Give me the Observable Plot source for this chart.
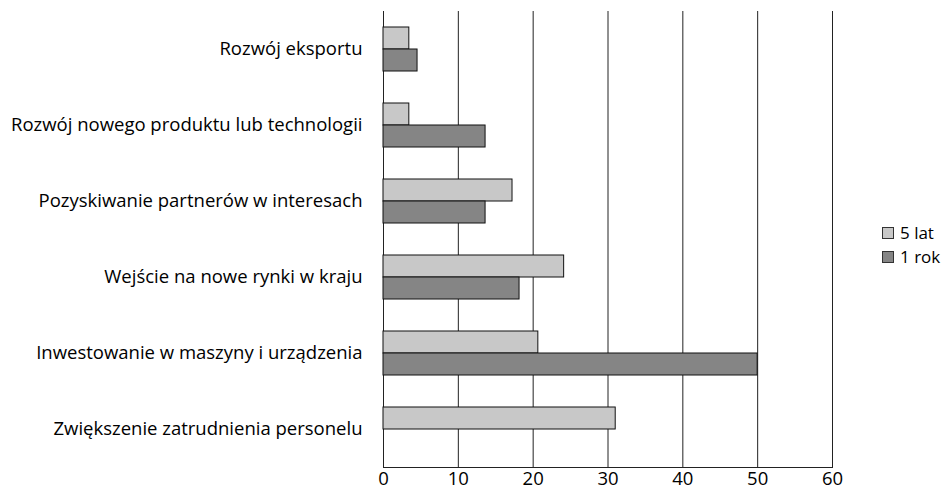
<!DOCTYPE html>
<html>
<head>
<meta charset="utf-8">
<script src="https://cdn.jsdelivr.net/npm/d3@7"></script>
<script src="https://cdn.jsdelivr.net/npm/@observablehq/plot@0.6"></script>
<style>
  html, body { margin: 0; padding: 0; background: #fff; }
  #wrap { position: relative; width: 948px; height: 491px; font-family: "Open Sans", sans-serif; }
  #legend { position: absolute; left: 882px; top: 221px; font-size: 17px; color: #000; line-height: 24px; }
  #legend .item { display: flex; align-items: center; }
  #legend .sw { width: 10px; height: 10px; border: 1px solid #333; margin-right: 6px; }
</style>
</head>
<body>
<div id="wrap">
  <div id="chart"></div>
  <div id="legend"></div>
</div>
<script>
const categories = [
  "Rozwój eksportu",
  "Rozwój nowego produktu lub technologii",
  "Pozyskiwanie partnerów w interesach",
  "Wejście na nowe rynki w kraju",
  "Inwestowanie w maszyny i urządzenia",
  "Zwiększenie zatrudnienia personelu"
];
const seriesNames = ["5 lat", "1 rok"];
const values5lat = [3.45, 3.45, 17.24, 24.14, 20.69, 31.03];
const values1rok = [4.55, 13.64, 13.64, 18.18, 50, 0];
const colors = ["#c8c8c8", "#858585"];
const xTicks = [0, 10, 20, 30, 40, 50, 60];

const data = [];
categories.forEach((c, i) => {
  data.push({category: c, series: seriesNames[0], value: values5lat[i]});
  data.push({category: c, series: seriesNames[1], value: values1rok[i]});
});
const lastCategory = categories[categories.length - 1];

const chart = Plot.plot({
  width: 948,
  height: 491,
  marginLeft: 383,
  marginRight: 116,
  marginTop: 10,
  marginBottom: 23,
  style: {fontFamily: "'Open Sans', sans-serif", fontSize: "18.5px", color: "#000", background: "#fff"},
  x: {domain: [0, 60], ticks: xTicks, tickSize: 0, tickPadding: 4, label: null},
  y: {domain: seriesNames, paddingInner: 0, paddingOuter: 0.68, axis: null},
  fy: {domain: categories, padding: 0, label: null, tickSize: 0, tickPadding: 21},
  color: {domain: seriesNames, range: colors},
  marks: [
    Plot.ruleX(xTicks, {stroke: "#222", strokeWidth: 1}),
    Plot.barX(data.filter(d => d.value > 0), {
      fy: "category", y: "series", x: "value",
      fill: "series", stroke: "#111", strokeWidth: 1, inset: 0
    }),
    Plot.frame({anchor: "bottom", fy: () => lastCategory, stroke: "#222"})
  ]
});
document.getElementById("chart").appendChild(chart);

const legend = document.getElementById("legend");
seriesNames.forEach((s, i) => {
  const item = document.createElement("div");
  item.className = "item";
  const sw = document.createElement("span");
  sw.className = "sw";
  sw.style.background = colors[i];
  const t = document.createElement("span");
  t.textContent = s;
  item.appendChild(sw);
  item.appendChild(t);
  legend.appendChild(item);
});
</script>
</body>
</html>
